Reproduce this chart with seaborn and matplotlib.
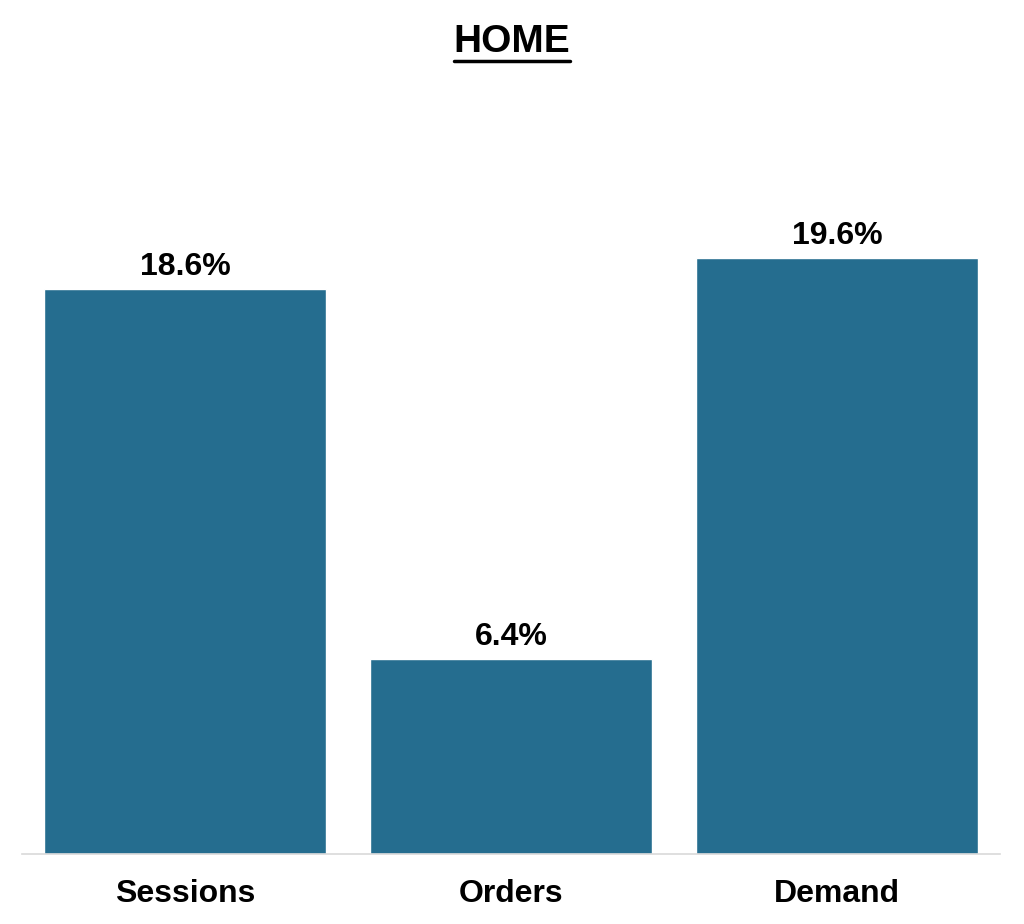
import matplotlib.pyplot as plt
import seaborn as sns
from matplotlib.lines import Line2D

categories = ['Sessions', 'Orders', 'Demand']
values = [18.6, 6.4, 19.6]
labels = ['18.6%', '6.4%', '19.6%']

sns.set_style('white')
plt.rcParams['font.family'] = ['Liberation Sans', 'DejaVu Sans']
plt.rcParams['text.color'] = 'black'
plt.rcParams['xtick.color'] = 'black'

fig = plt.figure(figsize=(10.24, 9.24), dpi=100)
ax = fig.add_axes([22 / 1024, 70 / 924, 978 / 1024, 754 / 924])

sns.barplot(x=categories, y=values, color='#256D8F', saturation=1, width=0.862, ax=ax)
ax.set_xlim(-0.5, 2.5)
ax.set_ylim(0, 24.8)

ax.bar_label(ax.containers[0], labels=labels, padding=5, fontsize=23, fontweight='bold', color='black')

# axes cleanup
for side in ['top', 'right', 'left']:
    ax.spines[side].set_visible(False)
ax.spines['bottom'].set_color('#d9d9d9')
ax.spines['bottom'].set_linewidth(1.2)
ax.set_yticks([])
ax.set_xlabel('')
ax.set_ylabel('')
ax.tick_params(axis='x', length=0, pad=18, labelsize=23, labelcolor='black')
for t in ax.get_xticklabels():
    t.set_fontweight('bold')

# title with underline
title = fig.text(0.5, 1 - 42 / 924, 'HOME', ha='center', va='center', fontsize=28, fontweight='bold', color='black')
fig.canvas.draw()
bb = title.get_window_extent().transformed(fig.transFigure.inverted())
y_ul = 1 - 61 / 924
fig.add_artist(Line2D([bb.x0, bb.x1], [y_ul, y_ul], transform=fig.transFigure, color='black', linewidth=2.5))

fig.savefig('out.png', dpi=100)
